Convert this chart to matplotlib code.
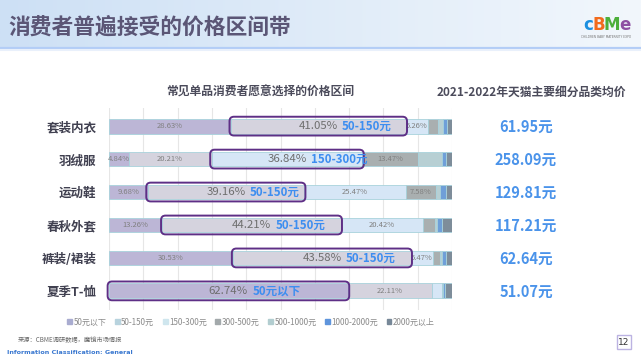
import matplotlib
matplotlib.use('Agg')
import matplotlib.pyplot as plt
import numpy as np
from matplotlib.patches import FancyBboxPatch, Rectangle
from matplotlib.transforms import blended_transform_factory
import matplotlib.colors as mcolors

plt.rcParams['font.family'] = ['Noto Sans CJK SC', 'DejaVu Sans']

# ---------------- data ----------------
categories = ['套装内衣', '羽绒服', '运动鞋', '春秋外套', '裤装/裙装', '夏季T-恤']
price_bands = ['50元以下', '50-150元', '150-300元', '300-500元', '500-1000元', '1000-2000元', '2000元以上']
band_under50 = [28.63, 4.84, 9.68, 13.26, 30.53, 62.74]
band_50_150 = [41.05, 20.21, 39.16, 44.21, 43.58, 22.11]
band_150_300 = [5.26, 36.84, 25.47, 20.42, 5.47, 2.6]
band_300_500 = [2.35, 13.47, 7.58, 3.0, 1.7, 0.0]
band_500_1000 = [1.17, 5.9, 1.0, 0.5, 0.5, 0.3]
band_1000_2000 = [0.94, 1.0, 1.5, 1.24, 1.0, 0.6]
band_over2000 = [1.17, 1.5, 1.5, 2.48, 1.5, 1.75]
highlight_band = [1, 2, 1, 1, 1, 0]
highlight_label = ['50-150元', '150-300元', '50-150元', '50-150元', '50-150元', '50元以下']
avg_price = ['61.95', '258.09', '129.81', '117.21', '62.64', '51.07']

title = '消费者普遍接受的价格区间带'
left_title = '常见单品消费者愿意选择的价格区间'
right_title = '2021-2022年天猫主要细分品类均价'
source = '来源：CBME调研数据，魔镜市场情报'

colors = ['#bcb6d6', '#d5d3de', '#d6e6f6', '#a9afb0', '#b7cfd3', '#6f9fd8', '#7e8d9a']
legend_colors = ['#a9acd0', '#b8d3de', '#cfe6ee', '#a3a9ab', '#b2cdd0', '#5f95dc', '#778898']

W, H = 641, 360
fig = plt.figure(figsize=(W / 100, H / 100), dpi=100)

# ---------------- background / decoration ----------------
bg = fig.add_axes([0, 0, 1, 1])
bg.set_xlim(0, W)
bg.set_ylim(H, 0)
bg.axis('off')
c1 = np.array(mcolors.to_rgb('#cde0f5'))
c2 = np.array(mcolors.to_rgb('#f2f7fc'))
t = np.linspace(0, 1, 256)[:, None]
grad = (c1 * (1 - t) + c2 * t)[None, :, :]
bg.imshow(grad, extent=[0, W, 47, 0], aspect='auto', zorder=0)
bg.plot([0, W], [47.5, 47.5], color='#b3cdf6', lw=1.6, zorder=1)
bg.plot([0, W], [49.5, 49.5], color='#e9f0fb', lw=1.5, zorder=1)
bg.text(8, 27, title, fontsize=15.7, fontweight='bold', color='#5b5676',
        va='center', ha='left')
for ch, col, x in zip(['c', 'B', 'M', 'e'], ['#1b8fe0', '#f26b1d', '#4caf3a', '#8e4fa3'],
                      [588, 599, 612, 625]):
    bg.text(x, 25, ch, fontsize=12, fontweight='heavy', color=col, ha='center', va='center',
            family='DejaVu Sans')
bg.text(606, 36.5, 'CHILDREN BABY MATERNITY EXPO', fontsize=2.2, color='#777777',
        ha='center', va='center', family='DejaVu Sans')

bg.text(18, 340, source, fontsize=4.5, color='#666666', ha='left', va='center')
bg.text(7, 353, 'Information Classification: General', fontsize=4.6, fontweight='bold',
        color='#3a78d0', ha='left', va='center', family='DejaVu Sans')
bg.add_patch(Rectangle((617, 335), 14, 14, fc='white', ec='#bcb3e2', lw=1.0, zorder=2))
bg.text(624, 342.5, '12', fontsize=6.5, color='#333333', ha='center', va='center', zorder=3,
        family='DejaVu Sans')

# ---------------- main chart ----------------
ax = fig.add_axes([109 / W, 1 - 310 / H, 343 / W, 202 / H])
data = np.array([band_under50, band_50_150, band_150_300, band_300_500,
                 band_500_1000, band_1000_2000, band_over2000]).T
shares = data / data.sum(axis=1, keepdims=True) * 100
lefts = np.hstack([np.zeros((len(categories), 1)), np.cumsum(shares, axis=1)[:, :-1]])
ypos = np.arange(len(categories))
bar_h = 0.45

for j in range(len(price_bands)):
    ax.barh(ypos, shares[:, j], left=lefts[:, j], height=bar_h, color=colors[j],
            edgecolor='#a8d2dc', linewidth=0.6, zorder=2, label=price_bands[j])

ax.set_xlim(0, 100)
ax.set_ylim(5.58, -0.55)
ax.set_xticks(np.arange(0, 101, 10))
ax.grid(axis='x', color='#e6e6e6', lw=0.8, zorder=0)
ax.set_axisbelow(True)
for s in ax.spines.values():
    s.set_visible(False)
ax.tick_params(axis='x', length=0, labelbottom=False)
ax.set_yticks(ypos)
ax.set_yticklabels(categories, fontsize=9, fontweight='bold', color='#404050')
ax.tick_params(axis='y', length=0, pad=9)

# aspect for rounded boxes
px_x = 343 / 100
px_y = 202 / (5.58 + 0.55)
asp = px_x / px_y

for i in range(len(categories)):
    for j in range(len(price_bands)):
        v = data[i, j]
        cx = lefts[i, j] + shares[i, j] / 2
        if j == highlight_band[i]:
            pct = ax.text(cx, ypos[i], f'{v:.2f}%', fontsize=8.2, color='#6e6e6e',
                          ha='center', va='center', zorder=6)
            ax.annotate(highlight_label[i], xy=(1, 0.5), xycoords=pct, xytext=(3, 0),
                        textcoords='offset points', fontsize=8.3, fontweight='bold',
                        color='#3d8ef0', ha='left', va='center', zorder=6)
            box = FancyBboxPatch((lefts[i, j] - 0.4, ypos[i] - 0.285), shares[i, j] + 0.8, 0.57,
                                 boxstyle='round,pad=0,rounding_size=1.3',
                                 mutation_aspect=asp, fc='none', ec='#5e2f86', lw=1.4,
                                 zorder=5, clip_on=False)
            ax.add_patch(box)
        elif v >= 4 and j <= 3:
            ax.text(cx, ypos[i], f'{v:.2f}%', fontsize=5.5, color='#808080',
                    ha='center', va='center', zorder=4)

trans = blended_transform_factory(fig.transFigure, ax.transData)
for i, p in enumerate(avg_price):
    ax.text(526 / W, ypos[i] + 0.03, f'{p}元', transform=trans, fontsize=10.5,
            fontweight='bold', color='#4a93ea', ha='center', va='center', clip_on=False)

fig.text(260 / W, 1 - 92 / H, left_title, fontsize=8.5, fontweight='bold', color='#4b4b5b',
         ha='center', va='center')
fig.text(531 / W, 1 - 92 / H, right_title, fontsize=8.5, fontweight='bold', color='#4b4b5b',
         ha='center', va='center')

handles = [Rectangle((0, 0), 1, 1, color=c) for c in legend_colors]
fig.legend(handles, price_bands, loc='center', bbox_to_anchor=(251 / W, 1 - 322 / H),
           ncol=7, frameon=False, fontsize=5.8, handlelength=0.6, handleheight=0.6,
           handletextpad=0.2, columnspacing=1.05, labelcolor='#8a8a8a', borderpad=0)

fig.savefig('out.png', dpi=100)
